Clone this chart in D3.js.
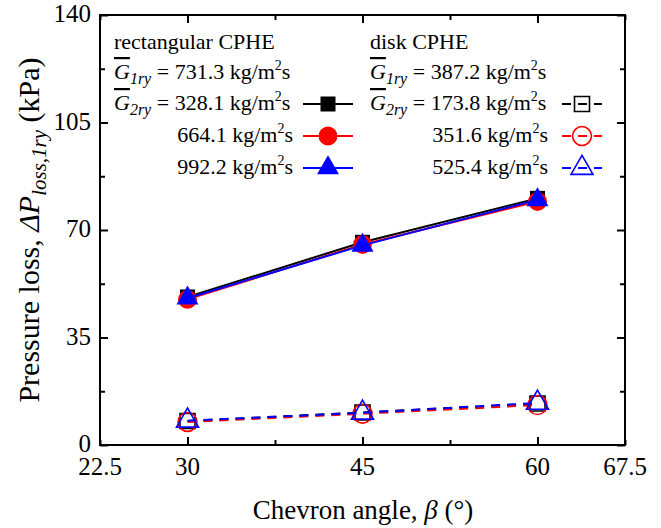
<!DOCTYPE html>
<html>
<head>
<meta charset="utf-8">
<script src="https://cdn.jsdelivr.net/npm/d3@7"></script>
<style>
  body { margin: 0; background: #fff; }
</style>
</head>
<body>
<svg width="661" height="528" font-family="'Liberation Serif', 'Times New Roman', Times, serif"></svg>
<script>
// chart values
var angles = [30, 45, 60];
var rectSeries = ["328.1", "664.1", "992.2"];          // G2ry for rectangular CPHE
var diskSeries = ["173.8", "351.6", "525.4"];          // G2ry for disk CPHE
var rectLoss = [[48.2, 66.0, 80.3], [47.4, 65.3, 79.3], [47.8, 65.0, 79.8]];
var diskLoss = [[7.8, 10.6, 13.5], [7.5, 10.2, 13.0], [7.9, 10.5, 13.7]];
var xTicks = [22.5, 30, 37.5, 45, 52.5, 60, 67.5];
var xLabels = [22.5, 30, 45, 60, 67.5];
var yTicks = [0, 17.5, 35, 52.5, 70, 87.5, 105, 122.5, 140];
var yLabels = [0, 35, 70, 105, 140];

var svg = d3.select("svg");
var pl = 100, pr = 625, pt = 15, pb = 445;     // plot frame

var x = d3.scaleLinear().domain([22.5, 67.5]).range([pl, pr]);
var y = d3.scaleLinear().domain([0, 140]).range([pb, pt]);

var colors = ["#000000", "#ff0000", "#0000ff"];
var shapes = [d3.symbolSquare, d3.symbolCircle, d3.symbolTriangle];
var sizes = [225, 280, 210];

// axes: ticks point inward on all four sides
function tickLen(v, majors) { return majors.indexOf(v) >= 0 ? 8 : 5; }
var xMajor = [30, 45, 60], yMajor = yLabels;

svg.append("g").attr("transform", "translate(0," + pb + ")")
  .call(d3.axisBottom(x).tickValues(xTicks).tickFormat(""))
  .call(function(g) {
    g.select(".domain").remove();
    g.selectAll(".tick line").attr("y2", function(d) { return -tickLen(d, xMajor); }).attr("stroke-width", 2);
  });
svg.append("g").attr("transform", "translate(0," + pt + ")")
  .call(d3.axisTop(x).tickValues(xTicks).tickFormat(""))
  .call(function(g) {
    g.select(".domain").remove();
    g.selectAll(".tick line").attr("y2", function(d) { return tickLen(d, xMajor); }).attr("stroke-width", 2);
  });
svg.append("g").attr("transform", "translate(" + pl + ",0)")
  .call(d3.axisLeft(y).tickValues(yTicks).tickFormat(""))
  .call(function(g) {
    g.select(".domain").remove();
    g.selectAll(".tick line").attr("x2", function(d) { return tickLen(d, yMajor); }).attr("stroke-width", 2);
  });
svg.append("g").attr("transform", "translate(" + pr + ",0)")
  .call(d3.axisRight(y).tickValues(yTicks).tickFormat(""))
  .call(function(g) {
    g.select(".domain").remove();
    g.selectAll(".tick line").attr("x2", function(d) { return -tickLen(d, yMajor); }).attr("stroke-width", 2);
  });

svg.append("rect")
  .attr("x", pl).attr("y", pt)
  .attr("width", pr - pl).attr("height", pb - pt)
  .attr("fill", "none").attr("stroke", "#000").attr("stroke-width", 2);

// tick labels
svg.append("g").selectAll("text").data(xLabels).enter().append("text")
  .attr("x", function(d) { return x(d); })
  .attr("y", 475)
  .attr("text-anchor", "middle")
  .attr("font-size", 25)
  .text(function(d) { return d; });

svg.append("g").selectAll("text").data(yLabels).enter().append("text")
  .attr("x", 91)
  .attr("y", function(d) { return y(d) + 7; })
  .attr("text-anchor", "end")
  .attr("font-size", 25)
  .text(function(d) { return d; });

// axis titles
var xt = svg.append("text").attr("x", 363).attr("y", 519)
  .attr("text-anchor", "middle").attr("font-size", 27);
xt.append("tspan").text("Chevron angle, ");
xt.append("tspan").attr("font-style", "italic").text("β");
xt.append("tspan").text(" (°)");

var yt = svg.append("text")
  .attr("transform", "translate(39," + ((pt + pb) / 2) + ") rotate(-90)")
  .attr("text-anchor", "middle").attr("font-size", 30);
yt.append("tspan").text("Pressure loss, ");
yt.append("tspan").attr("font-style", "italic").text("ΔP");
yt.append("tspan").attr("font-style", "italic").attr("font-size", 21).attr("dy", 7).text("loss,1ry");
yt.append("tspan").attr("dy", -7).text(" (kPa)");

// data
var line = d3.line()
  .x(function(d, i) { return x(angles[i]); })
  .y(function(d) { return y(d); });

function drawSeries(vals, k, dashed) {
  svg.append("path")
    .datum(vals)
    .attr("d", line)
    .attr("fill", "none")
    .attr("stroke", colors[k])
    .attr("stroke-width", 2)
    .attr("stroke-dasharray", dashed ? "9,7" : null);
  svg.append("g").selectAll("path").data(vals).enter().append("path")
    .attr("transform", function(d, i) { return "translate(" + x(angles[i]) + "," + y(d) + ")"; })
    .attr("d", d3.symbol().type(shapes[k]).size(sizes[k]))
    .attr("fill", dashed ? "none" : colors[k])
    .attr("stroke", colors[k])
    .attr("stroke-width", dashed ? 1.6 : 0);
}
rectLoss.forEach(function(v, k) { drawSeries(v, k, false); });
diskLoss.forEach(function(v, k) { drawSeries(v, k, true); });

// legend
function gLabel(px, py, sub, val) {
  var t = svg.append("text").attr("x", px).attr("y", py).attr("font-size", 22);
  t.append("tspan").attr("font-style", "italic").attr("text-decoration", "overline").text("G");
  t.append("tspan").attr("font-style", "italic").attr("font-size", 16).attr("dy", 5).text(sub);
  t.append("tspan").attr("dy", -5).text(" = " + val + " kg/m");
  t.append("tspan").attr("font-size", 14).attr("dy", -9).text("2");
  t.append("tspan").attr("dy", 9).text("s");
}
function valLabel(px, py, val) {
  var t = svg.append("text").attr("x", px).attr("y", py).attr("text-anchor", "end").attr("font-size", 22);
  t.append("tspan").text(val + " kg/m");
  t.append("tspan").attr("font-size", 14).attr("dy", -9).text("2");
  t.append("tspan").attr("dy", 9).text("s");
}
function legendKey(cx, cy, k, dashed, half) {
  svg.append("line")
    .attr("x1", cx - half).attr("x2", cx + half).attr("y1", cy).attr("y2", cy)
    .attr("stroke", colors[k]).attr("stroke-width", 2)
    .attr("stroke-dasharray", dashed ? "9,7" : null);
  svg.append("path")
    .attr("transform", "translate(" + cx + "," + cy + ")")
    .attr("d", d3.symbol().type(shapes[k]).size(sizes[k]))
    .attr("fill", dashed ? "none" : colors[k])
    .attr("stroke", colors[k])
    .attr("stroke-width", dashed ? 1.6 : 0);
}

var rowY = [49, 79, 110, 142, 174];
svg.append("text").attr("x", 114).attr("y", rowY[0]).attr("font-size", 22).text("rectangular CPHE");
gLabel(114, rowY[1], "1ry", "731.3");
gLabel(114, rowY[2], "2ry", rectSeries[0]);
valLabel(293, rowY[3], rectSeries[1]);
valLabel(293, rowY[4], rectSeries[2]);

svg.append("text").attr("x", 370).attr("y", rowY[0]).attr("font-size", 22).text("disk CPHE");
gLabel(370, rowY[1], "1ry", "387.2");
gLabel(370, rowY[2], "2ry", diskSeries[0]);
valLabel(548, rowY[3], diskSeries[1]);
valLabel(548, rowY[4], diskSeries[2]);

rectSeries.forEach(function(s, k) { legendKey(328, rowY[k + 2] - 6, k, false, 25); });
diskSeries.forEach(function(s, k) { legendKey(582, rowY[k + 2] - 6, k, true, 20); });
</script>
</body>
</html>
